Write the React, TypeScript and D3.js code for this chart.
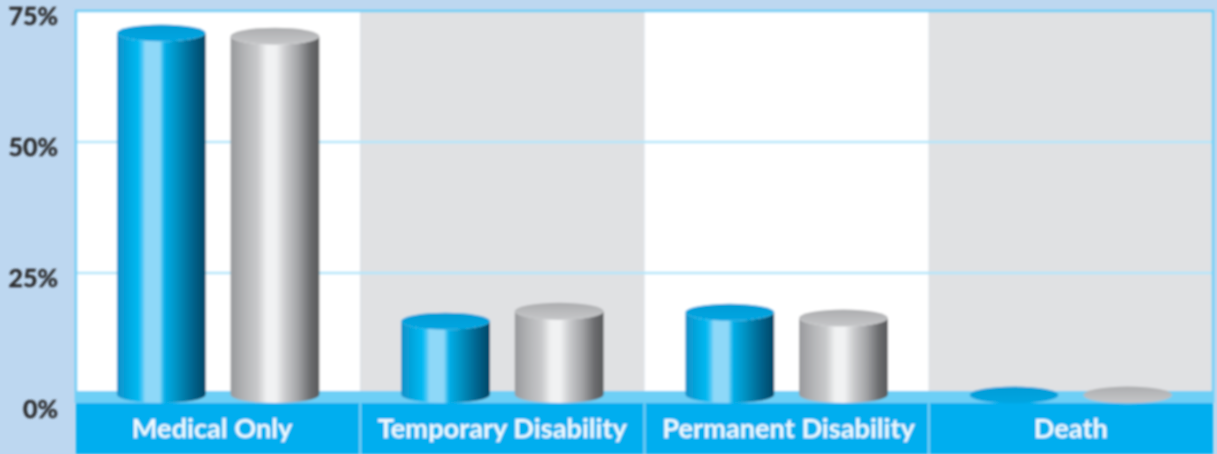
import React from "react";
import * as d3 from "d3";

const categories = ["Medical Only", "Temporary Disability", "Permanent Disability", "Death"];
const seriesNames = ["blue", "gray"];
const blueValues = [70.8, 15.8, 17.5, 1.7];
const grayValues = [70.2, 17.7, 16.4, 1.7];
const yTicks = [0, 25, 50, 75];
const gridTicks = [25, 50];

const W = 1217, H = 454;
const x = d3.scaleBand<string>().domain(categories).range([76, 1213]);
const inner = d3.scaleBand<string>().domain(seriesNames).range([0, x.bandwidth()]).paddingInner(0.219).paddingOuter(0.36);
const y = d3.scaleLinear().domain([0, 75]).range([404, 11]);
const RY = 8.5;
const BASE = y(0) - 9.5;

const blueStops: [number, string][] = [[0, "#0a90c8"], [0.12, "#05a6de"], [0.24, "#00b9f2"], [0.29, "#50c8f6"], [0.32, "#8ed8f8"], [0.48, "#8ed8f8"], [0.54, "#00aee8"], [0.68, "#0090c0"], [0.85, "#00658f"], [1, "#004565"]];
const grayStops: [number, string][] = [[0, "#98999c"], [0.15, "#b2b3b5"], [0.3, "#c8c9cb"], [0.41, "#f1f2f3"], [0.51, "#f1f2f3"], [0.62, "#c9cacc"], [0.76, "#a2a3a6"], [0.9, "#6b6c6e"], [1, "#58595b"]];

function body(left: number, right: number, top: number, base: number) {
  const rx = (right - left) / 2;
  return `M${left},${top}L${left},${base}A${rx},${RY} 0 0 0 ${right},${base}L${right},${top}A${rx},${RY} 0 0 1 ${left},${top}Z`;
}

function Cylinder({ cat, s, value }: { cat: string; s: string; value: number }) {
  const left = x(cat)! + inner(s)!;
  const w = inner.bandwidth();
  const cx = left + w / 2;
  const top = Math.min(y(value), BASE + 0.5);
  return (
    <g>
      <path d={body(left, left + w, top, Math.max(BASE, top))} fill={`url(#side-${s})`} />
      <ellipse cx={cx} cy={top} rx={w / 2} ry={RY} fill={`url(#cap-${s})`} />
    </g>
  );
}

export default function App() {
  const sans = "Lato, 'Open Sans', sans-serif";
  const labelShift = (i: number) => (i === 0 ? -6 : i === 2 ? 2 : 0);
  return (
    <svg width={W} height={H} viewBox={`0 0 ${W} ${H}`} style={{ position: "absolute", left: 0, top: 0, display: "block" }}>
      <defs>
        <linearGradient id="side-blue">{blueStops.map(([o, c]) => <stop key={o} offset={o} stopColor={c} />)}</linearGradient>
        <linearGradient id="side-gray">{grayStops.map(([o, c]) => <stop key={o} offset={o} stopColor={c} />)}</linearGradient>
        <linearGradient id="cap-blue" x1="0" y1="0" x2="0" y2="1"><stop offset="0" stopColor="#009cd6" /><stop offset="1" stopColor="#00a6e2" /></linearGradient>
        <linearGradient id="cap-gray" x1="0" y1="0" x2="0" y2="1"><stop offset="0" stopColor="#acadaf" /><stop offset="1" stopColor="#c6c7c9" /></linearGradient>
        <filter id="soft" filterUnits="userSpaceOnUse" x="0" y="0" width={W} height={H}><feGaussianBlur stdDeviation="0.8" /></filter>
      </defs>
      <rect width={W} height={H} fill="#bdd7f0" />
      <g filter="url(#soft)">
        {categories.map((c, i) => (
          <rect key={c} x={x(c)} y={y(75)} width={x.bandwidth()} height={391 - y(75)} fill={i % 2 ? "#e0e1e3" : "#ffffff"} />
        ))}
        {gridTicks.map((t) => (
          <line key={t} x1={76} x2={1213} y1={y(t)} y2={y(t)} stroke="#b4e6fa" strokeWidth={2.5} />
        ))}
        <path d={`M76,403V${y(75)}H1213V403`} fill="none" stroke="#6dcff6" strokeWidth={2.5} />
        <rect x={76} y={391} width={1137} height={13} fill="#6dcff6" />
        <rect x={76} y={403} width={1137} height={51} fill="#00aeef" />
        {categories.slice(1).map((c) => (
          <line key={c} x1={x(c)} x2={x(c)} y1={403} y2={454} stroke="#7fd3f5" strokeWidth={2} />
        ))}
        {categories.map((c, i) => (
          <g key={c}>
            <Cylinder cat={c} s="blue" value={blueValues[i]} />
            <Cylinder cat={c} s="gray" value={grayValues[i]} />
          </g>
        ))}
        {categories.map((c, i) => (
          <text key={c} x={x(c)! + x.bandwidth() / 2 + labelShift(i)} y={438} textAnchor="middle" fontFamily={sans} fontWeight={700} fontSize={27.2} fill="#eef9fe">{c}</text>
        ))}
        {yTicks.map((t) => (
          <text key={t} x={58} y={y(t) + 13.5} textAnchor="end" fontFamily={sans} fontWeight={700} fontSize={25} fill="#2a2a2c" stroke="#2a2a2c" strokeWidth={0.4}>{t}%</text>
        ))}
      </g>
    </svg>
  );
}
